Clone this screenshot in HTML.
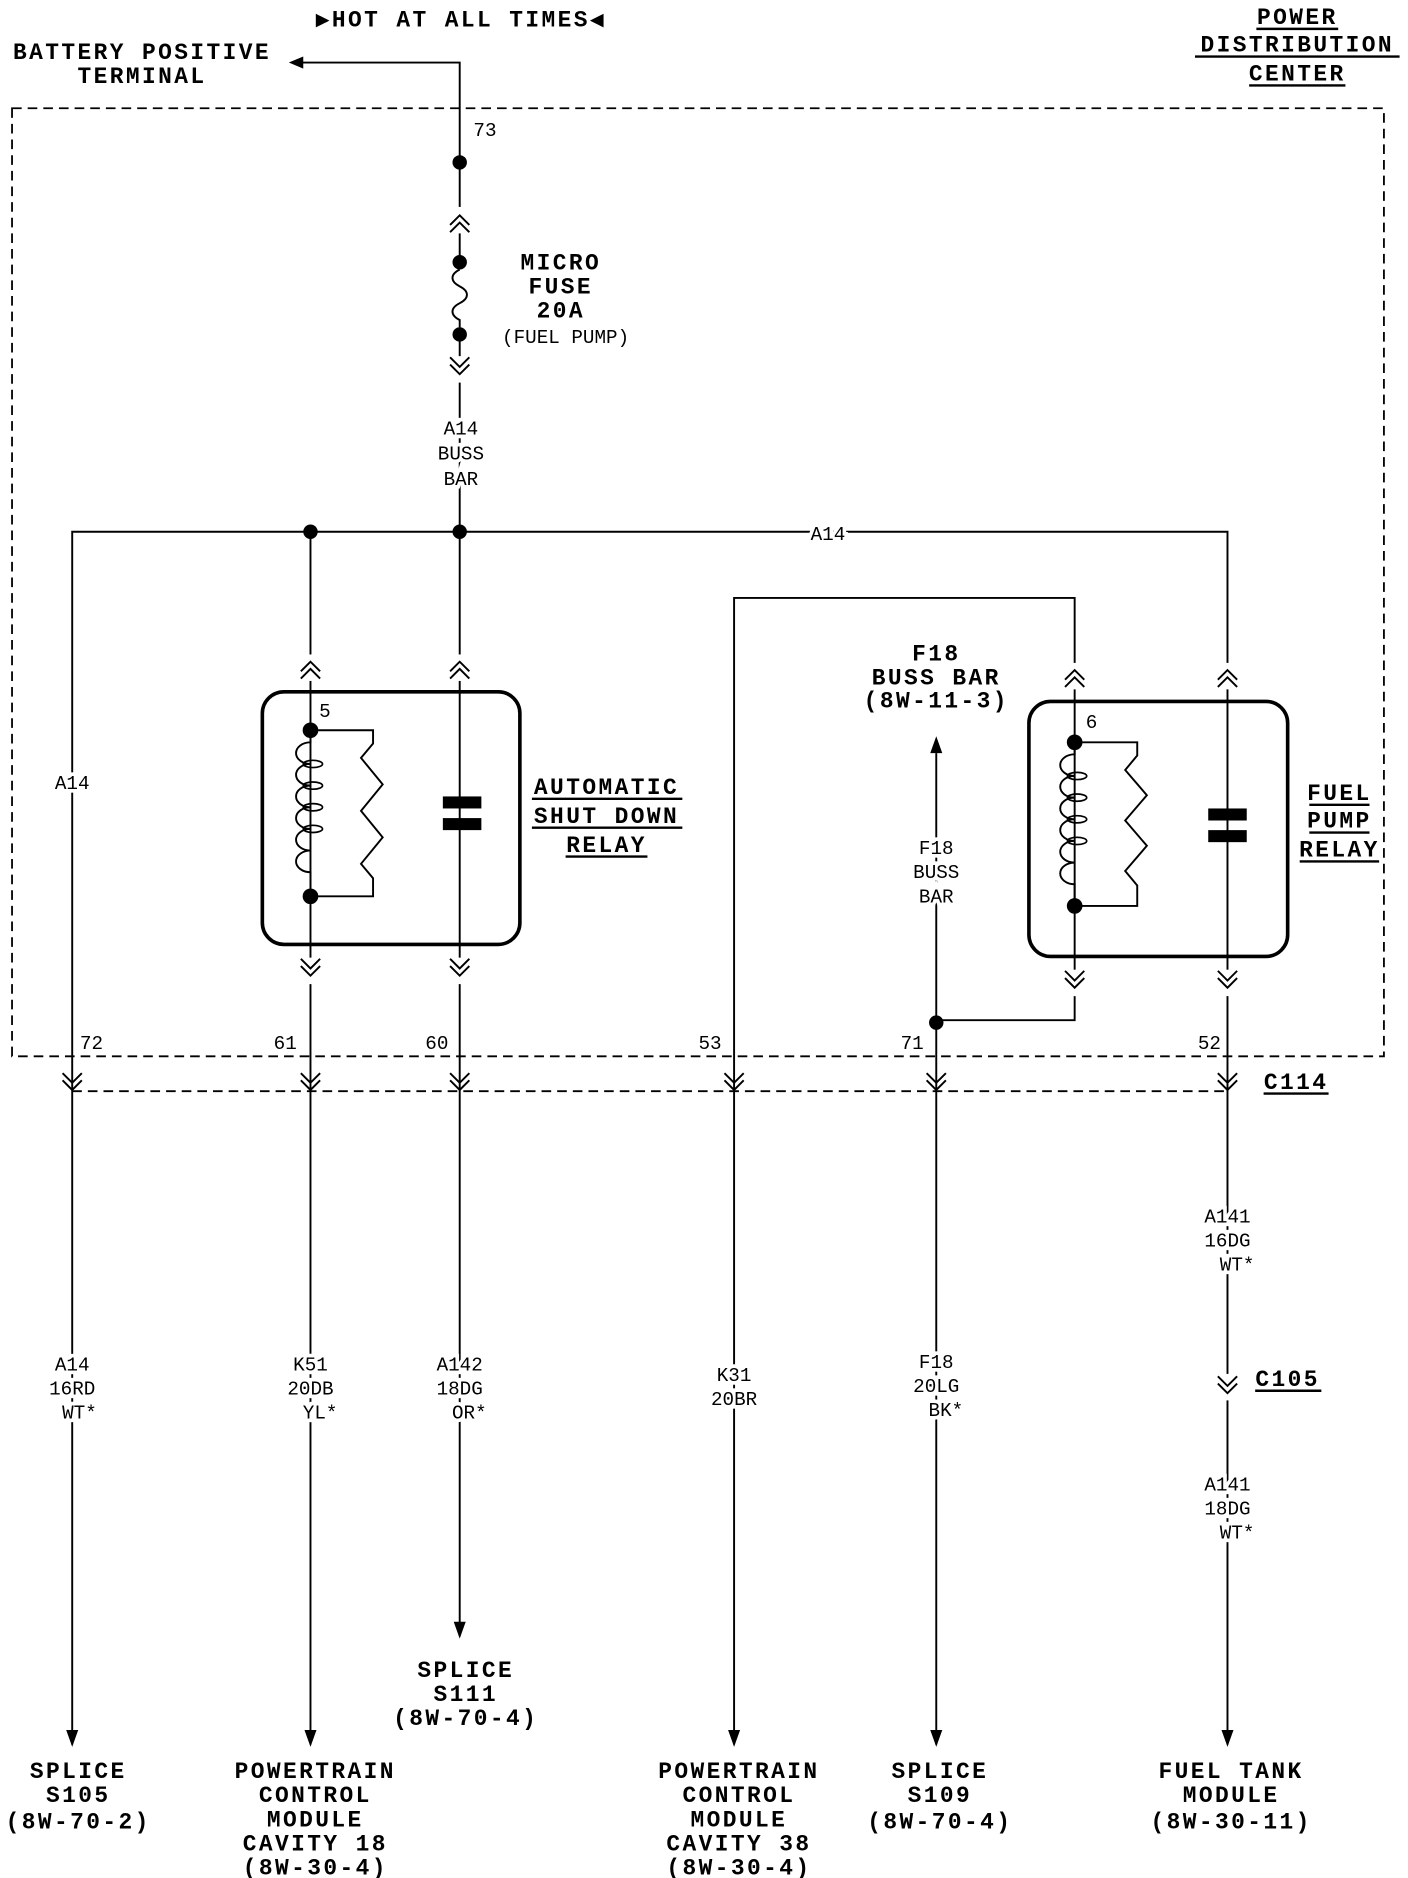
<!DOCTYPE html>
<html><head><meta charset="utf-8"><style>
html,body{margin:0;padding:0;background:#fff;}
svg{display:block;}
.b{font-family:"Liberation Mono",monospace;font-weight:bold;font-size:19px;letter-spacing:2px;fill:#000;text-anchor:middle;}
.s{font-family:"Liberation Mono",monospace;font-size:16px;fill:#000;text-anchor:middle;paint-order:stroke;stroke:#fff;stroke-width:6px;}
.w{stroke:#000;stroke-width:1.6;fill:none;}
</style></head><body>
<svg width="1408" height="1878" viewBox="0 0 1170 1561" preserveAspectRatio="none" xmlns="http://www.w3.org/2000/svg">
<defs>
<path id="up" d="M-8,5 L0,-3 L8,5 M-8,11 L0,3 L8,11" stroke="#000" stroke-width="1.6" fill="none"/>
<path id="dn" d="M-8,-5 L0,3 L8,-5 M-8,-11 L0,-3 L8,-11" stroke="#000" stroke-width="1.6" fill="none"/>
<path id="ah" d="M-5,-14 L5,-14 L0,0 Z" fill="#000"/>
<g id="coil"><path d="M0,0 v10 a12,9 0 0 0 0,18 a12,9 0 0 0 0,18 a12,9 0 0 0 0,18 a12,9 0 0 0 0,18 a12,9 0 0 0 0,18 a12,9 0 0 0 0,18 v18" stroke="#000" stroke-width="1.6" fill="none"/>
<ellipse cx="2" cy="28" rx="8" ry="3" stroke="#000" stroke-width="1.4" fill="none"/><ellipse cx="2" cy="46" rx="8" ry="3" stroke="#000" stroke-width="1.4" fill="none"/><ellipse cx="2" cy="64" rx="8" ry="3" stroke="#000" stroke-width="1.4" fill="none"/><ellipse cx="2" cy="82" rx="8" ry="3" stroke="#000" stroke-width="1.4" fill="none"/></g>
</defs>
<!-- header -->
<text class="b" x="383" y="22">▶HOT AT ALL TIMES◀</text>
<text class="b" x="118" y="49">BATTERY POSITIVE</text>
<text class="b" x="118" y="69">TERMINAL</text>
<text class="b" x="1078" y="20">POWER</text><line x1="1044" y1="24" x2="1112" y2="24" stroke="#000" stroke-width="2"/>
<text class="b" x="1078" y="43">DISTRIBUTION</text><line x1="993" y1="47" x2="1163" y2="47" stroke="#000" stroke-width="2"/>
<text class="b" x="1078" y="67">CENTER</text><line x1="1038" y1="71" x2="1118" y2="71" stroke="#000" stroke-width="2"/>
<path class="w" d="M250,52 H382 V1360"/><path d="M240,52 L252,47 L252,57Z" fill="#000"/>
<!-- dashed box -->
<rect x="10" y="90" width="1140" height="788" fill="none" stroke="#000" stroke-width="1.5" stroke-dasharray="8,5"/>
<line x1="60" y1="907" x2="1020" y2="907" stroke="#000" stroke-width="1.5" stroke-dasharray="8,5"/>
<!-- fuse area -->
<circle cx="382" cy="135" r="6"/><text class="s" x="403" y="113">73</text>
<rect x="372" y="172" width="20" height="22" fill="#fff"/><use href="#up" x="382" y="182"/>
<circle cx="382" cy="218" r="6"/>
<rect x="372" y="224" width="20" height="48" fill="#fff"/>
<path class="w" d="M382,224 c-8,4 -8,10 0,14 c8,4 8,10 0,14 c-8,4 -8,10 0,14 v6"/>
<circle cx="382" cy="278" r="6"/>
<rect x="372" y="296" width="20" height="22" fill="#fff"/><use href="#dn" x="382" y="308"/>
<text class="b" x="466" y="224">MICRO</text><text class="b" x="466" y="244">FUSE</text><text class="b" x="466" y="264">20A</text>
<text class="s" x="470" y="285">(FUEL PUMP)</text>
<text class="s" x="383" y="361">A14</text><text class="s" x="383" y="382">BUSS</text><text class="s" x="383" y="403">BAR</text>
<!-- bus line -->
<path class="w" d="M60,1450 V442 H1020 V1450"/>
<circle cx="258" cy="442" r="6"/><circle cx="382" cy="442" r="6"/>
<text class="s" x="688" y="449">A14</text>
<text class="s" x="60" y="656">A14</text>
<!-- ASD relay -->
<path class="w" d="M258,442 V1450"/>
<rect x="250" y="544" width="16" height="22" fill="#fff"/><use href="#up" x="258" y="553"/>
<rect x="374" y="544" width="16" height="22" fill="#fff"/><use href="#up" x="382" y="553"/>
<rect x="218" y="575" width="214" height="210" rx="18" fill="none" stroke="#000" stroke-width="3"/>
<text class="s" x="270" y="596">5</text>
<rect x="240" y="610" width="17" height="134" fill="#fff"/>
<use href="#coil" x="258" y="607"/>
<path class="w" d="M258,607 H310 V618 L300,630 L318,652 L300,674 L318,696 L300,718 L310,730 V745 H258"/>
<circle cx="258" cy="607" r="6.5"/><circle cx="258" cy="745" r="6.5"/>
<rect x="368" y="662" width="32" height="10"/><rect x="368" y="680" width="32" height="10"/>
<rect x="250" y="796" width="16" height="22" fill="#fff"/><use href="#dn" x="258" y="808"/>
<rect x="374" y="796" width="16" height="22" fill="#fff"/><use href="#dn" x="382" y="808"/>
<text class="b" x="504" y="660">AUTOMATIC</text><line x1="442" y1="664" x2="567" y2="664" stroke="#000" stroke-width="2"/>
<text class="b" x="504" y="684">SHUT DOWN</text><line x1="442" y1="688" x2="567" y2="688" stroke="#000" stroke-width="2"/>
<text class="b" x="504" y="708">RELAY</text><line x1="470" y1="712" x2="538" y2="712" stroke="#000" stroke-width="2"/>
<!-- K31 and fuel pump relay -->
<path class="w" d="M610,1450 V497 H893 V848 H778"/>
<rect x="885" y="551" width="16" height="22" fill="#fff"/><use href="#up" x="893" y="560"/>
<rect x="1012" y="551" width="16" height="22" fill="#fff"/><use href="#up" x="1020" y="560"/>
<rect x="855" y="583" width="215" height="212" rx="18" fill="none" stroke="#000" stroke-width="3"/>
<text class="s" x="907" y="605">6</text>
<rect x="875" y="620" width="17" height="132" fill="#fff"/>
<use href="#coil" x="893" y="617"/>
<path class="w" d="M893,617 H945 V628 L935,640 L953,661 L935,682 L953,703 L935,724 L945,736 V753 H893"/>
<circle cx="893" cy="617" r="6.5"/><circle cx="893" cy="753" r="6.5"/>
<rect x="1004" y="672" width="32" height="10"/><rect x="1004" y="690" width="32" height="10"/>
<rect x="885" y="806" width="16" height="22" fill="#fff"/><use href="#dn" x="893" y="818"/>
<rect x="1012" y="806" width="16" height="22" fill="#fff"/><use href="#dn" x="1020" y="818"/>
<text class="b" x="1113" y="665">FUEL</text><line x1="1088" y1="669" x2="1138" y2="669" stroke="#000" stroke-width="2"/>
<text class="b" x="1113" y="688">PUMP</text><line x1="1088" y1="692" x2="1138" y2="692" stroke="#000" stroke-width="2"/>
<text class="b" x="1113" y="712">RELAY</text><line x1="1080" y1="716" x2="1146" y2="716" stroke="#000" stroke-width="2"/>
<!-- F18 -->
<path class="w" d="M778,1450 V626"/><path d="M773,626 L783,626 L778,612Z" fill="#000"/>
<circle cx="778" cy="850" r="6"/>
<text class="b" x="778" y="549">F18</text><text class="b" x="778" y="569">BUSS BAR</text><text class="b" x="778" y="588">(8W-11-3)</text>
<text class="s" x="778" y="710">F18</text><text class="s" x="778" y="730">BUSS</text><text class="s" x="778" y="750">BAR</text>
<!-- pin numbers -->
<text class="s" x="76" y="872">72</text><text class="s" x="237" y="872">61</text><text class="s" x="363" y="872">60</text>
<text class="s" x="590" y="872">53</text><text class="s" x="758" y="872">71</text><text class="s" x="1005" y="872">52</text>
<!-- C114 chevrons -->
<g>
<use href="#dn" x="60" y="903"/>
<use href="#dn" x="258" y="903"/>
<use href="#dn" x="382" y="903"/>
<use href="#dn" x="610" y="903"/>
<use href="#dn" x="778" y="903"/>
<use href="#dn" x="1020" y="903"/>
</g>
<text class="b" x="1077" y="905">C114</text><line x1="1050" y1="909" x2="1104" y2="909" stroke="#000" stroke-width="2"/>
<!-- wire labels -->
<text class="s" x="60" y="1139">A14</text><text class="s" x="60" y="1159">16RD</text><text class="s" x="66" y="1179">WT*</text>
<text class="s" x="258" y="1139">K51</text><text class="s" x="258" y="1159">20DB</text><text class="s" x="266" y="1179">YL*</text>
<text class="s" x="382" y="1139">A142</text><text class="s" x="382" y="1159">18DG</text><text class="s" x="390" y="1179">OR*</text>
<text class="s" x="610" y="1148">K31</text><text class="s" x="610" y="1168">20BR</text>
<text class="s" x="778" y="1137">F18</text><text class="s" x="778" y="1157">20LG</text><text class="s" x="786" y="1177">BK*</text>
<text class="s" x="1020" y="1016">A141</text><text class="s" x="1020" y="1036">16DG</text><text class="s" x="1028" y="1056">WT*</text>
<rect x="1012" y="1142" width="16" height="22" fill="#fff"/><use href="#dn" x="1020" y="1155"/>
<text class="b" x="1070" y="1152">C105</text><line x1="1043" y1="1156" x2="1098" y2="1156" stroke="#000" stroke-width="2"/>
<text class="s" x="1020" y="1239">A141</text><text class="s" x="1020" y="1259">18DG</text><text class="s" x="1028" y="1279">WT*</text>
<!-- arrowheads -->
<use href="#ah" x="60" y="1452"/><use href="#ah" x="258" y="1452"/><use href="#ah" x="382" y="1362"/>
<use href="#ah" x="610" y="1452"/><use href="#ah" x="778" y="1452"/><use href="#ah" x="1020" y="1452"/>
<!-- bottom labels -->
<text class="b" x="65" y="1478">SPLICE</text><text class="b" x="65" y="1498">S105</text><text class="b" x="65" y="1520">(8W-70-2)</text>
<text class="b" x="262" y="1478">POWERTRAIN</text><text class="b" x="262" y="1498">CONTROL</text><text class="b" x="262" y="1518">MODULE</text><text class="b" x="262" y="1538">CAVITY 18</text><text class="b" x="262" y="1558">(8W-30-4)</text>
<text class="b" x="387" y="1394">SPLICE</text><text class="b" x="387" y="1414">S111</text><text class="b" x="387" y="1434">(8W-70-4)</text>
<text class="b" x="614" y="1478">POWERTRAIN</text><text class="b" x="614" y="1498">CONTROL</text><text class="b" x="614" y="1518">MODULE</text><text class="b" x="614" y="1538">CAVITY 38</text><text class="b" x="614" y="1558">(8W-30-4)</text>
<text class="b" x="781" y="1478">SPLICE</text><text class="b" x="781" y="1498">S109</text><text class="b" x="781" y="1520">(8W-70-4)</text>
<text class="b" x="1023" y="1478">FUEL TANK</text><text class="b" x="1023" y="1498">MODULE</text><text class="b" x="1023" y="1520">(8W-30-11)</text>
</svg>
</body></html>
